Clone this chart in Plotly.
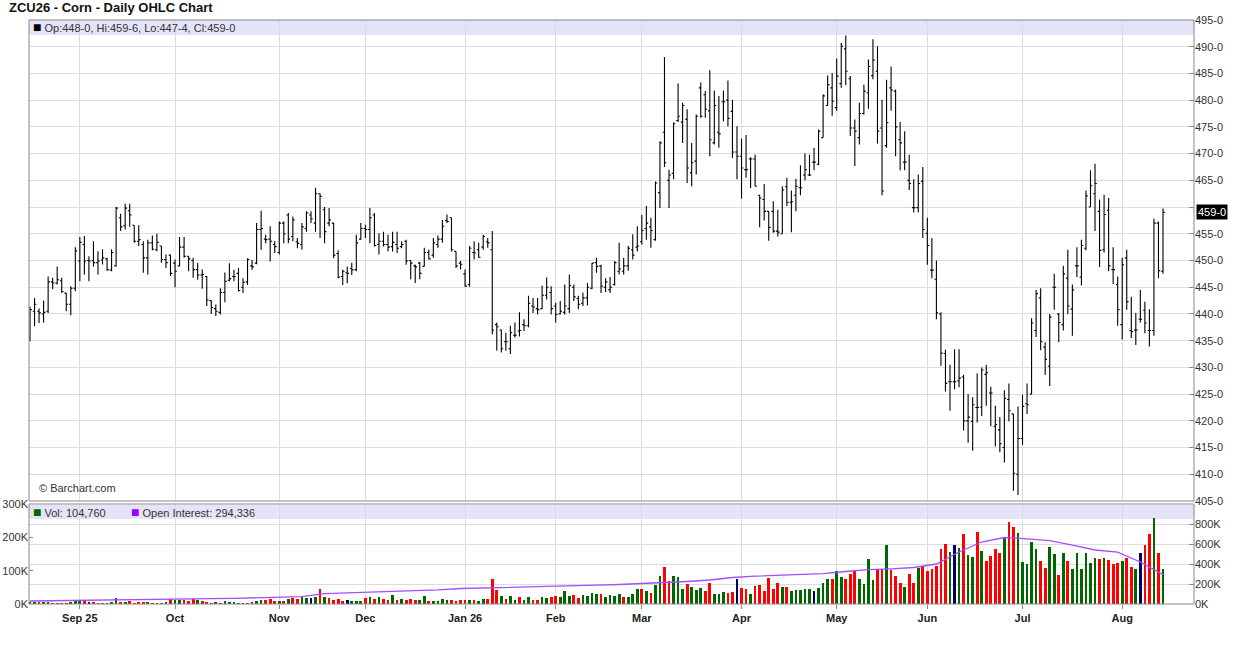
import pandas as pd
import plotly.graph_objects as go

# trading calendar (CBOT holidays removed)
HOLIDAYS = ["2025-09-01", "2025-11-27", "2025-12-25", "2026-01-01", "2026-01-19",
            "2026-02-16", "2026-04-03", "2026-05-25", "2026-06-19", "2026-07-03"]
days = pd.bdate_range("2025-08-15", "2026-08-14")
days = days[~days.isin(pd.to_datetime(HOLIDAYS))]
DATES = [d.strftime("%Y-%m-%d") for d in days]

OPEN = [
    435.5, 440.5, 440.5, 440.0, 440.5, 446.0, 445.8, 446.2, 443.9, 441.8,
    444.8, 449.9, 453.0, 450.0, 450.0, 449.6, 450.1, 450.3, 448.2, 449.0,
    458.0, 456.5, 459.3, 456.6, 453.6, 453.0, 450.5, 453.3, 452.0, 452.7,
    450.2, 451.0, 449.5, 449.0, 452.5, 450.8, 450.0, 448.3, 447.3, 447.0,
    442.5, 441.0, 440.3, 444.0, 446.3, 447.0, 447.6, 445.0, 446.0, 449.0,
    449.5, 455.8, 454.0, 454.0, 453.0, 451.5, 457.0, 458.5, 454.5, 453.5,
    453.0, 456.0, 458.5, 457.0, 462.5, 459.5, 457.0, 457.0, 451.3, 447.0,
    447.7, 448.5, 448.3, 454.0, 456.0, 455.8, 458.5, 453.0, 453.6, 453.0,
    452.6, 453.0, 452.6, 453.6, 450.0, 449.0, 449.5, 448.9, 451.5, 451.0,
    453.0, 454.0, 457.5, 458.0, 451.7, 449.5, 447.5, 445.5, 451.5, 452.0,
    452.5, 453.5, 452.0, 438.0, 437.0, 434.8, 433.5, 436.0, 436.8, 438.0,
    437.8, 441.5, 441.0, 441.0, 443.5, 444.0, 441.5, 440.0, 440.3, 441.0,
    445.0, 442.9, 442.0, 443.0, 444.8, 449.6, 449.0, 445.0, 444.5, 445.5,
    448.0, 448.0, 449.0, 452.0, 452.5, 453.5, 456.0, 456.3, 453.9, 462.7,
    474.0, 465.0, 466.3, 476.2, 475.9, 476.4, 466.4, 468.6, 482.3, 481.0,
    478.0, 472.0, 474.0, 479.7, 480.0, 477.9, 470.3, 469.5, 467.0, 469.0,
    469.0, 462.2, 461.4, 459.2, 459.2, 455.5, 455.0, 463.8, 460.9, 462.2,
    463.6, 466.0, 466.0, 468.4, 468.0, 473.0, 479.0, 482.3, 478.6, 483.1,
    489.6, 484.0, 474.8, 473.0, 477.5, 481.4, 484.6, 485.4, 474.8, 471.5,
    482.3, 481.7, 472.6, 468.4, 465.0, 459.9, 459.9, 464.8, 455.1, 448.2,
    446.5, 440.0, 432.6, 427.3, 427.3, 427.5, 428.2, 420.0, 419.9, 422.5,
    422.6, 428.7, 425.2, 419.0, 418.3, 415.0, 424.0, 421.3, 410.0, 416.7,
    423.2, 425.0, 436.9, 443.0, 433.8, 430.2, 445.0, 440.0, 438.0, 446.7,
    440.9, 449.0, 446.9, 452.3, 460.0, 462.5, 459.2, 452.0, 459.4, 448.3,
    445.5, 438.0, 450.5, 436.9, 437.0, 439.0, 440.7, 436.9, 436.9, 457.0,
    448.0,
]
HIGH = [
    441.4, 443.0, 441.0, 442.5, 447.0, 446.75, 448.9, 446.75, 443.9, 445.2,
    452.5, 454.4, 454.6, 450.8, 453.6, 451.75, 452.1, 450.5, 452.1, 460.0,
    458.75, 460.6, 460.6, 456.6, 456.6, 453.6, 453.9, 454.7, 455.0, 452.7,
    451.1, 451.1, 450.2, 454.4, 454.4, 450.8, 450.5, 449.6, 448.3, 447.1,
    442.5, 441.75, 444.8, 447.75, 449.5, 448.25, 448.6, 446.7, 450.4, 450.1,
    457.0, 459.3, 454.8, 456.4, 453.6, 457.3, 457.3, 458.9, 458.25, 454.2,
    457.0, 459.2, 459.2, 463.6, 462.6, 460.0, 459.8, 457.0, 451.9, 448.25,
    448.9, 449.6, 454.8, 457.0, 456.7, 459.8, 458.9, 455.1, 455.4, 454.8,
    455.4, 455.4, 453.6, 453.9, 450.0, 449.25, 449.7, 452.4, 452.0, 454.2,
    454.7, 457.6, 458.6, 458.0, 451.7, 449.9, 448.3, 452.7, 453.6, 453.3,
    454.8, 454.2, 455.5, 438.4, 437.1, 436.5, 437.8, 438.4, 440.3, 439.0,
    443.4, 443.0, 443.0, 445.3, 446.8, 445.2, 442.1, 442.4, 445.5, 447.4,
    445.5, 443.4, 444.0, 445.8, 449.55, 450.5, 449.2, 446.7, 446.9, 449.9,
    453.3, 450.5, 452.7, 454.9, 456.4, 458.5, 460.2, 458.0, 464.8, 472.3,
    488.1, 467.0, 475.8, 483.1, 479.5, 478.3, 472.0, 477.3, 483.3, 481.7,
    485.6, 481.8, 480.8, 481.8, 483.7, 480.1, 475.1, 472.8, 473.5, 469.3,
    469.8, 462.3, 464.3, 459.2, 461.1, 459.5, 463.9, 465.5, 463.1, 465.3,
    467.8, 470.0, 469.8, 471.1, 474.5, 481.1, 484.6, 485.1, 487.8, 490.7,
    492.1, 484.5, 476.4, 479.5, 482.9, 487.6, 491.4, 490.1, 480.1, 483.8,
    486.3, 482.0, 475.9, 474.2, 469.8, 465.2, 466.1, 467.5, 458.0, 454.2,
    450.0, 440.3, 433.3, 430.5, 433.4, 433.4, 428.6, 425.0, 424.4, 428.9,
    430.0, 430.5, 426.4, 422.8, 420.7, 425.7, 427.0, 421.3, 422.7, 424.9,
    427.0, 439.2, 444.5, 444.8, 434.7, 440.0, 447.5, 440.2, 449.0, 452.0,
    445.5, 452.5, 453.9, 463.1, 466.9, 468.1, 461.4, 462.3, 461.7, 452.5,
    447.0, 450.5, 452.0, 443.2, 440.2, 444.5, 442.3, 440.9, 457.8, 457.3,
    459.75,
]
LOW = [
    434.9, 437.7, 438.3, 438.4, 440.2, 444.6, 445.5, 443.9, 440.5, 439.75,
    444.25, 446.1, 447.4, 446.1, 448.9, 447.4, 449.25, 448.1, 448.0, 448.9,
    455.5, 455.8, 456.3, 453.3, 452.7, 447.7, 447.4, 451.9, 451.75, 449.6,
    448.6, 447.1, 445.0, 448.9, 450.5, 448.0, 446.75, 446.4, 444.7, 441.5,
    440.0, 439.6, 439.9, 442.2, 446.1, 446.1, 444.2, 443.9, 445.4, 448.25,
    449.3, 452.0, 453.25, 449.8, 451.4, 451.1, 453.25, 453.25, 453.6, 452.3,
    452.0, 455.4, 457.0, 455.4, 454.2, 453.25, 456.4, 450.4, 446.7, 445.4,
    445.75, 447.3, 448.0, 453.9, 454.2, 453.25, 452.6, 451.1, 452.6, 451.7,
    451.7, 451.4, 452.3, 449.2, 446.5, 445.8, 446.5, 448.9, 450.2, 450.5,
    452.4, 453.3, 457.0, 451.7, 448.6, 448.3, 445.1, 445.1, 450.2, 450.5,
    452.0, 452.4, 436.2, 433.1, 432.8, 433.1, 432.5, 435.6, 435.8, 436.8,
    437.5, 440.2, 439.9, 440.9, 442.7, 439.9, 438.4, 439.9, 439.9, 440.2,
    442.4, 440.9, 441.5, 441.6, 444.6, 447.7, 443.9, 444.1, 443.9, 445.3,
    447.4, 447.4, 448.1, 450.2, 451.7, 453.0, 453.9, 452.4, 453.7, 459.8,
    467.5, 459.8, 465.2, 475.9, 472.0, 464.5, 463.9, 466.1, 476.7, 476.7,
    469.5, 471.7, 471.1, 476.0, 475.1, 469.2, 465.2, 461.6, 465.5, 463.5,
    463.9, 456.2, 457.5, 453.7, 455.2, 454.5, 455.0, 460.2, 455.3, 459.2,
    462.2, 465.0, 465.8, 466.9, 467.8, 473.0, 478.9, 477.1, 478.0, 482.3,
    482.8, 473.3, 467.7, 471.7, 477.3, 478.4, 483.9, 471.9, 462.2, 471.1,
    478.0, 469.5, 466.9, 466.9, 463.2, 459.0, 459.0, 454.2, 449.2, 446.7,
    439.0, 430.3, 425.5, 421.9, 425.9, 426.3, 418.2, 415.9, 414.4, 419.7,
    420.9, 422.8, 419.0, 415.2, 414.1, 412.2, 419.9, 406.9, 406.1, 415.5,
    421.3, 425.0, 435.7, 433.2, 428.6, 426.5, 440.8, 434.7, 436.9, 440.0,
    435.9, 446.9, 445.3, 451.9, 460.0, 455.5, 448.8, 451.5, 448.0, 445.6,
    437.8, 435.2, 440.8, 435.5, 434.2, 438.4, 436.4, 433.9, 435.9, 446.7,
    447.5,
]
CLOSE = [
    440.8, 441.8, 440.2, 440.3, 446.0, 445.8, 446.4, 444.2, 441.8, 444.8,
    451.8, 453.4, 449.9, 449.9, 449.6, 449.9, 450.5, 448.3, 451.5, 459.8,
    456.3, 459.8, 458.5, 453.6, 453.9, 450.5, 453.3, 452.1, 453.4, 450.2,
    449.6, 447.6, 448.0, 452.5, 450.8, 450.3, 448.3, 447.3, 447.4, 442.6,
    441.2, 440.5, 444.0, 446.1, 446.6, 447.0, 444.4, 445.9, 450.2, 448.8,
    455.8, 456.0, 453.9, 453.6, 452.6, 457.0, 455.0, 454.0, 457.6, 453.2,
    456.3, 458.9, 457.8, 462.5, 462.0, 455.4, 457.6, 451.0, 446.9, 448.0,
    447.6, 448.25, 453.3, 456.0, 455.8, 458.0, 452.8, 453.6, 453.0, 452.5,
    453.4, 452.3, 453.0, 449.9, 449.5, 448.8, 447.6, 451.5, 450.3, 453.3,
    454.0, 456.4, 457.3, 452.0, 449.0, 449.3, 445.2, 452.3, 451.4, 450.6,
    454.5, 453.3, 437.0, 437.6, 433.5, 434.8, 436.5, 436.0, 436.9, 437.8,
    442.0, 441.3, 440.8, 443.5, 445.0, 441.0, 439.9, 440.5, 441.5, 445.3,
    443.2, 441.8, 443.0, 445.0, 449.5, 448.9, 445.2, 446.0, 445.0, 449.6,
    448.4, 449.0, 452.3, 451.0, 452.7, 455.6, 457.0, 455.6, 464.5, 472.0,
    468.3, 466.0, 475.6, 477.0, 479.0, 467.3, 468.3, 477.0, 477.0, 478.3,
    472.6, 479.0, 473.7, 479.7, 476.6, 470.3, 469.5, 467.3, 467.0, 469.0,
    463.9, 461.7, 459.2, 456.2, 455.5, 455.3, 463.2, 460.9, 461.0, 463.9,
    463.6, 467.0, 466.0, 468.4, 474.2, 480.8, 482.9, 479.8, 484.5, 490.1,
    485.4, 474.8, 474.2, 477.5, 481.7, 486.3, 487.5, 474.2, 463.0, 475.8,
    481.9, 475.0, 472.0, 468.4, 464.4, 459.9, 464.4, 455.8, 452.8, 448.2,
    440.2, 432.7, 427.0, 427.3, 427.3, 428.0, 420.0, 420.7, 423.0, 422.5,
    429.5, 429.0, 425.2, 419.3, 415.7, 424.2, 421.9, 410.2, 416.7, 422.7,
    423.0, 438.3, 443.8, 434.8, 431.5, 439.4, 445.0, 438.4, 447.5, 441.5,
    444.5, 449.0, 452.8, 462.1, 464.0, 464.4, 451.9, 458.6, 449.0, 448.3,
    440.8, 449.2, 442.3, 436.7, 437.0, 439.0, 438.3, 436.9, 457.0, 448.1,
    459.0,
]

# daily volume, thousands of contracts
VOLUME_K = [
    5, 6, 4, 6, 6, 3, 3, 3, 3, 6,
    12, 12, 12, 6, 6, 3, 3, 3, 6, 18,
    6, 6, 9, 3, 6, 6, 6, 3, 3, 3,
    6, 15, 12, 12, 12, 9, 15, 12, 9, 6,
    3, 6, 3, 9, 6, 6, 3, 3, 3, 6,
    9, 12, 12, 15, 9, 9, 9, 15, 18, 15,
    21, 18, 18, 21, 45, 21, 18, 12, 15, 9,
    12, 9, 9, 9, 18, 21, 15, 21, 15, 12,
    27, 12, 15, 12, 15, 12, 12, 25, 9, 9,
    9, 15, 12, 12, 9, 12, 12, 12, 12, 9,
    15, 15, 75, 42, 24, 15, 24, 12, 21, 12,
    21, 12, 12, 21, 18, 21, 24, 21, 39, 24,
    27, 18, 27, 24, 33, 30, 30, 21, 27, 24,
    30, 21, 21, 30, 45, 45, 39, 33, 57, 84,
    111, 69, 84, 81, 45, 60, 51, 42, 48, 39,
    63, 30, 30, 36, 33, 36, 75, 48, 45, 30,
    54, 57, 39, 78, 45, 63, 51, 51, 39, 42,
    42, 45, 45, 39, 48, 63, 75, 75, 99, 81,
    75, 90, 102, 75, 60, 135, 72, 105, 105, 177,
    102, 84, 63, 51, 90, 63, 108, 114, 99, 105,
    114, 165, 180, 156, 177, 168, 210, 147, 141, 216,
    159, 129, 144, 165, 153, 201, 246, 231, 213, 126,
    120, 186, 165, 129, 108, 171, 150, 87, 153, 129,
    105, 153, 105, 153, 123, 138, 135, 138, 132, 120,
    123, 129, 138, 111, 105, 153, 177, 210, 257, 153,
    104.76,
]
# volume bar colour as drawn: g = up, r = down, n = unchanged
VOL_DIR = ("ggrggrgrrg" "ggrnrrrrgg" "rgrrrrgggg" "grggrrrgrr" "rgggggggrr"
           "ggrrrgrgrr" "ggngrgrrrr" "ngggrgrgrr" "grgrrrggrg" "gggrrrrgrg"
           "grrrgrggrg" "grrggrrggg" "rrggggrggg" "grgggrgrgg" "rrgggrgggr"
           "rgggrrnrrg" "rrrrrrgrgg" "gggngggrgg" "rrrggggrrg" "rrrgrrgrrr"
           "rrrgngrggr" "grrrrgrrgg" "gggrrggrgr" "ggggggrgrr" "rgrrgnrrgr"
           "g")
# open interest, thousands, read every fifth session
OI_K = [30, 32, 34, 36, 38, 41, 44, 48, 53, 57,
        62, 68, 74, 103, 110, 118, 126, 134, 142, 155,
        160, 163, 167, 172, 180, 188, 195, 203, 212, 225,
        240, 265, 278, 285, 293, 303, 325, 343, 352, 365,
        400, 520, 620, 665, 652, 633, 588, 540, 518, 420,
        294.336]

TICK_LABELS = ["Sep 25", "Oct", "Nov", "Dec", "Jan 26", "Feb", "Mar", "Apr",
               "May", "Jun", "Jul", "Aug"]
PRICE_TICKS = list(range(405, 500, 5))

firsts = pd.Series(DATES, index=days).groupby(days.to_period("M")).first()
tick_dates = list(firsts.values[1:])

DIR_COLORS = {"g": "#006600", "r": "#ff0000", "n": "#000066"}

fig = go.Figure()
fig.add_trace(go.Ohlc(x=DATES, open=OPEN, high=HIGH, low=LOW, close=CLOSE,
                      increasing_line_color="black", decreasing_line_color="black",
                      line_width=1.1, tickwidth=0.4, xaxis="x", yaxis="y", hoverinfo="skip"))
fig.add_trace(go.Bar(x=DATES, y=[v * 1000 for v in VOLUME_K],
                     marker_color=[DIR_COLORS[c] for c in VOL_DIR], marker_line_width=0,
                     width=0.6, xaxis="x", yaxis="y2"))
fig.add_trace(go.Scatter(x=DATES[::5], y=[v * 1000 for v in OI_K], mode="lines",
                         line=dict(color="#a64dff", width=1.3), xaxis="x", yaxis="y3"))

W, H = 1236, 645
L, R, T, B = 29, 42, 20, 41
ph = H - T - B
price_bottom = (604 - 501) / ph
vol_top = (604 - 504) / ph


def px_x(x):
    return (x - L) / (W - L - R)


def px_y(y):
    return (604 - y) / ph


grid = "#dcdcdc"
axis_font = dict(size=11, color="#333")
last_label = f"{int(CLOSE[-1])}-0"
# the last-price tag sits on top of the 460 label, as in the original
price_text = ["" if v == 460 else f"{v}-0" for v in PRICE_TICKS]

fig.update_layout(
    width=W, height=H, margin=dict(l=L, r=R, t=T, b=B, autoexpand=False),
    paper_bgcolor="white", plot_bgcolor="white", showlegend=False,
    font=dict(family="Liberation Sans, Arial, sans-serif", size=11, color="#333"),
    xaxis=dict(type="category", categoryorder="array", categoryarray=DATES,
               range=[-0.22, 256.84], anchor="y2", domain=[0, 1], automargin=False,
               tickvals=tick_dates, ticktext=[f"<b>{t}</b>" for t in TICK_LABELS],
               showgrid=True, gridcolor=grid, gridwidth=1, ticks="outside", ticklen=4,
               tickcolor="#888", tickfont=dict(size=11, color="#222"),
               rangeslider=dict(visible=False), zeroline=False, showline=False),
    yaxis=dict(domain=[price_bottom, 1], range=[405, 495], side="right", anchor="x",
               tickvals=PRICE_TICKS, ticktext=price_text, automargin=False,
               showgrid=True, gridcolor=grid, ticks="inside", ticklen=5, tickcolor="#888",
               tickfont=axis_font, zeroline=False),
    yaxis2=dict(domain=[0, vol_top], range=[0, 300000], side="left", anchor="x",
                tickvals=[0, 100000, 200000, 300000], ticktext=["0K", "100K", "200K", "300K"],
                showgrid=False, ticks="inside", ticklen=4, tickcolor="#888", automargin=False,
                tickfont=axis_font, zeroline=False),
    yaxis3=dict(overlaying="y2", side="right", anchor="x", range=[0, 1000000],
                tickvals=[0, 200000, 400000, 600000, 800000],
                ticktext=["0K", "200K", "400K", "600K", "800K"], automargin=False,
                showgrid=True, gridcolor=grid, ticks="inside", ticklen=5, tickcolor="#888",
                tickfont=axis_font, zeroline=False),
    bargap=0,
)

band = "#e4e4f9"
fig.add_shape(type="rect", xref="x domain", yref="y domain", x0=0, x1=1,
              y0=(501 - 35) / 481, y1=1, fillcolor=band, line_width=0, layer="below")
fig.add_shape(type="rect", xref="x domain", yref="y2 domain", x0=0, x1=1,
              y0=0.85, y1=0.99, fillcolor=band, line_width=0, layer="below")
for yref in ("y domain", "y2 domain"):
    fig.add_shape(type="rect", xref="x domain", yref=yref, x0=0, x1=1, y0=0, y1=1,
                  line=dict(color="#888", width=1), fillcolor="rgba(0,0,0,0)", layer="above")


def swatch(color):
    return f'<span style="color:{color};font-size:14px">■</span>'


ann = dict(xref="paper", yref="paper", showarrow=False, xanchor="left", yanchor="middle")
fig.add_annotation(text="<b>ZCU26 - Corn - Daily OHLC Chart</b>", x=px_x(7), y=px_y(8),
                   font=dict(size=13, color="#111"), **ann)
fig.add_annotation(text=swatch("black") + " Op:448-0, Hi:459-6, Lo:447-4, Cl:459-0",
                   x=px_x(31), y=px_y(27.5), font=dict(size=11, color="#333"), **ann)
fig.add_annotation(text="© Barchart.com", x=px_x(37), y=px_y(488),
                   font=dict(size=11, color="#333"), **ann)
fig.add_annotation(text=swatch("#006600") + " Vol: 104,760",
                   x=px_x(31), y=px_y(512), font=dict(size=11, color="#333"), **ann)
fig.add_annotation(text=swatch("#9900ff") + " Open Interest: 294,336",
                   x=px_x(129), y=px_y(512), font=dict(size=11, color="#333"), **ann)
fig.add_annotation(text=last_label, xref="paper", yref="y", x=1, y=CLOSE[-1], xanchor="left",
                   yanchor="middle", xshift=2, showarrow=False, bgcolor="black",
                   borderpad=1, font=dict(size=11, color="white"))

# the page body has a default 8px margin; drop it so the chart sits at the corner
fig.write_html("out.html", config={"displayModeBar": False},
               post_script="document.body.style.margin = '0px';")
